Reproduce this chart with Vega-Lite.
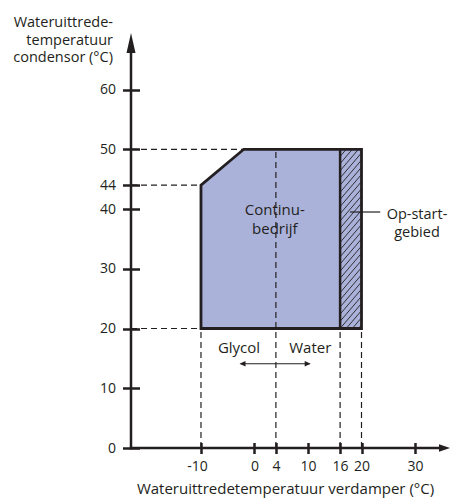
{
  "$schema": "https://vega.github.io/schema/vega-lite/v6.json",
  "width": 319,
  "height": 428,
  "autosize": {"type": "none"},
  "padding": {"left": 131, "top": 20, "right": 0, "bottom": 50},
  "background": "white",
  "config": {"view": {"stroke": null}, "font": "Open Sans"},
  "data": {"values": [{}]},
  "datasets": {
    "region": [
      {"x": -10, "y": 44},
      {"x": -2, "y": 50},
      {"x": 20, "y": 50}
    ],
    "outline": [
      {"o": 1, "x": -10, "y": 30},
      {"o": 2, "x": -10, "y": 44},
      {"o": 3, "x": -2, "y": 50},
      {"o": 4, "x": 20, "y": 50},
      {"o": 5, "x": 20, "y": 20},
      {"o": 6, "x": -10, "y": 20},
      {"o": 7, "x": -10, "y": 30}
    ],
    "dashes": [
      {"x": -23.08, "y": 50, "x2": -2, "y2": 50},
      {"x": -23.08, "y": 44, "x2": -10, "y2": 44},
      {"x": -23.08, "y": 20, "x2": -10, "y2": 20},
      {"x": -10, "y": 0, "x2": -10, "y2": 20},
      {"x": 4, "y": 0, "x2": 4, "y2": 50},
      {"x": 16, "y": 0, "x2": 16, "y2": 20},
      {"x": 20, "y": 0, "x2": 20, "y2": 20}
    ],
    "hatch": [
      {"hx": 19.429, "hy": 20, "hx2": 20, "hy2": 20.6},
      {"hx": 18.286, "hy": 20, "hx2": 20, "hy2": 21.8},
      {"hx": 17.143, "hy": 20, "hx2": 20, "hy2": 23.0},
      {"hx": 16, "hy": 20.0, "hx2": 20, "hy2": 24.2},
      {"hx": 16, "hy": 21.2, "hx2": 20, "hy2": 25.4},
      {"hx": 16, "hy": 22.4, "hx2": 20, "hy2": 26.6},
      {"hx": 16, "hy": 23.6, "hx2": 20, "hy2": 27.8},
      {"hx": 16, "hy": 24.8, "hx2": 20, "hy2": 29.0},
      {"hx": 16, "hy": 26.0, "hx2": 20, "hy2": 30.2},
      {"hx": 16, "hy": 27.2, "hx2": 20, "hy2": 31.4},
      {"hx": 16, "hy": 28.4, "hx2": 20, "hy2": 32.6},
      {"hx": 16, "hy": 29.6, "hx2": 20, "hy2": 33.8},
      {"hx": 16, "hy": 30.8, "hx2": 20, "hy2": 35.0},
      {"hx": 16, "hy": 32.0, "hx2": 20, "hy2": 36.2},
      {"hx": 16, "hy": 33.2, "hx2": 20, "hy2": 37.4},
      {"hx": 16, "hy": 34.4, "hx2": 20, "hy2": 38.6},
      {"hx": 16, "hy": 35.6, "hx2": 20, "hy2": 39.8},
      {"hx": 16, "hy": 36.8, "hx2": 20, "hy2": 41.0},
      {"hx": 16, "hy": 38.0, "hx2": 20, "hy2": 42.2},
      {"hx": 16, "hy": 39.2, "hx2": 20, "hy2": 43.4},
      {"hx": 16, "hy": 40.4, "hx2": 20, "hy2": 44.6},
      {"hx": 16, "hy": 41.6, "hx2": 20, "hy2": 45.8},
      {"hx": 16, "hy": 42.8, "hx2": 20, "hy2": 47.0},
      {"hx": 16, "hy": 44.0, "hx2": 20, "hy2": 48.2},
      {"hx": 16, "hy": 45.2, "hx2": 20, "hy2": 49.4},
      {"hx": 16, "hy": 46.4, "hx2": 19.429, "hy2": 50},
      {"hx": 16, "hy": 47.6, "hx2": 18.286, "hy2": 50},
      {"hx": 16, "hy": 48.8, "hx2": 17.143, "hy2": 50}
    ]
  },
  "layer": [
    {
      "data": {"name": "region"},
      "mark": {"type": "area", "color": "#abb2da", "opacity": 1},
      "encoding": {
        "x": {
          "field": "x", "type": "quantitative",
          "scale": {"domain": [-23.08, 36.54], "nice": false, "zero": false},
          "axis": {
            "values": [-10, 0, 4, 10, 16, 20, 30],
            "labelExpr": "'' + datum.value",
            "domain": false, "grid": false,
            "tickSize": 11, "tickWidth": 2.5, "tickColor": "#231f20",
            "offset": -5.5,
            "labelFont": "Open Sans", "labelFontSize": 14, "labelColor": "#231f20",
            "labelBaseline": "alphabetic",
            "labelOffset": {"condition": {"test": "datum.value < 0", "value": -4}, "value": 0},
            "labelPadding": 17, "labelOverlap": false, "labelFlush": false,
            "title": "Wateruittredetemperatuur verdamper (°C)",
            "titleFont": "Open Sans", "titleFontSize": 15, "titleFontWeight": "normal",
            "titleColor": "#231f20", "titleX": 154, "titleY": 50.8,
            "titleAlign": "center", "titleBaseline": "alphabetic"
          }
        },
        "y": {
          "field": "y", "type": "quantitative",
          "scale": {"domain": [0, 71.64], "nice": false, "zero": false},
          "axis": {
            "values": [0, 10, 20, 30, 40, 44, 50, 60],
            "domain": false, "grid": false,
            "tickSize": 17, "tickWidth": 2.5, "tickColor": "#231f20",
            "offset": -8.5,
            "labelFont": "Open Sans", "labelFontSize": 14, "labelColor": "#231f20",
            "labelPadding": 7, "labelOverlap": false, "labelFlush": false,
            "title": null
          }
        },
        "y2": {"datum": 20}
      }
    },
    {
      "data": {"name": "hatch"},
      "mark": {"type": "rule", "color": "#231f20", "strokeWidth": 0.9},
      "encoding": {
        "x": {"field": "hx", "type": "quantitative"},
        "y": {"field": "hy", "type": "quantitative"},
        "x2": {"field": "hx2"},
        "y2": {"field": "hy2"}
      }
    },
    {
      "data": {"name": "dashes"},
      "mark": {"type": "rule", "color": "#231f20", "strokeWidth": 1.2, "strokeDash": [6, 4]},
      "encoding": {
        "x": {"field": "x", "type": "quantitative"},
        "y": {"field": "y", "type": "quantitative"},
        "x2": {"field": "x2"},
        "y2": {"field": "y2"}
      }
    },
    {
      "data": {"name": "outline"},
      "mark": {"type": "line", "color": "#231f20", "strokeWidth": 2.8, "strokeJoin": "miter"},
      "encoding": {
        "x": {"field": "x", "type": "quantitative"},
        "y": {"field": "y", "type": "quantitative"},
        "order": {"field": "o"}
      }
    },
    {
      "mark": {"type": "rule", "color": "#231f20", "strokeWidth": 2.5},
      "encoding": {
        "x": {"datum": 16, "type": "quantitative"},
        "y": {"datum": 20, "type": "quantitative"},
        "y2": {"datum": 50}
      }
    },
    {
      "mark": {"type": "rule", "color": "#231f20", "strokeWidth": 2.5, "strokeCap": "square"},
      "encoding": {
        "x": {"datum": -23.08, "type": "quantitative"},
        "y": {"datum": 0, "type": "quantitative"},
        "y2": {"datum": 67}
      }
    },
    {
      "mark": {"type": "rule", "color": "#231f20", "strokeWidth": 2.5, "strokeCap": "square"},
      "encoding": {
        "x": {"datum": -23.08, "type": "quantitative"},
        "x2": {"datum": 34.8},
        "y": {"datum": 0, "type": "quantitative"}
      }
    },
    {
      "mark": {"type": "point", "shape": "M0,0L-0.225,1L0.225,1Z", "size": 1600, "filled": true, "color": "#231f20", "opacity": 1, "strokeWidth": 0},
      "encoding": {
        "x": {"datum": -23.08, "type": "quantitative"},
        "y": {"datum": 69.47, "type": "quantitative"}
      }
    },
    {
      "mark": {"type": "point", "shape": "M0,0L-1,-0.34L-1,0.34Z", "size": 484, "filled": true, "color": "#231f20", "opacity": 1, "strokeWidth": 0},
      "encoding": {
        "x": {"datum": 36.54, "type": "quantitative"},
        "y": {"datum": 0, "type": "quantitative"}
      }
    },
    {
      "mark": {"type": "rule", "color": "#231f20", "strokeWidth": 1},
      "encoding": {
        "x": {"datum": -2.6, "type": "quantitative"},
        "x2": {"datum": 10.3},
        "y": {"datum": 14.1, "type": "quantitative"}
      }
    },
    {
      "mark": {"type": "point", "shape": "M0,0L1,-0.45L1,0.45Z", "size": 144, "filled": true, "color": "#231f20", "opacity": 1, "strokeWidth": 0},
      "encoding": {
        "x": {"datum": -2.8, "type": "quantitative"},
        "y": {"datum": 14.1, "type": "quantitative"}
      }
    },
    {
      "mark": {"type": "point", "shape": "M0,0L-1,-0.45L-1,0.45Z", "size": 144, "filled": true, "color": "#231f20", "opacity": 1, "strokeWidth": 0},
      "encoding": {
        "x": {"datum": 10.5, "type": "quantitative"},
        "y": {"datum": 14.1, "type": "quantitative"}
      }
    },
    {
      "mark": {"type": "rule", "color": "#231f20", "strokeWidth": 1.2},
      "encoding": {
        "x": {"datum": 17.85, "type": "quantitative"},
        "x2": {"datum": 23.5},
        "y": {"datum": 39.5, "type": "quantitative"}
      }
    },
    {
      "mark": {"type": "text", "text": ["Wateruittrede-", "temperatuur", "condensor (°C)"], "align": "right", "baseline": "alphabetic", "lineHeight": 17.5, "font": "Open Sans", "fontSize": 14.5, "color": "#231f20"},
      "encoding": {
        "x": {"datum": -26.45, "type": "quantitative"},
        "y": {"datum": 70.39, "type": "quantitative"}
      }
    },
    {
      "mark": {"type": "text", "text": ["Continu-", "bedrijf"], "align": "center", "baseline": "alphabetic", "lineHeight": 19, "font": "Open Sans", "fontSize": 15, "color": "#231f20"},
      "encoding": {
        "x": {"datum": 3.8, "type": "quantitative"},
        "y": {"datum": 39.0, "type": "quantitative"}
      }
    },
    {
      "mark": {"type": "text", "text": ["Op-start-", "gebied"], "align": "center", "baseline": "alphabetic", "lineHeight": 17.5, "font": "Open Sans", "fontSize": 14.5, "color": "#231f20"},
      "encoding": {
        "x": {"datum": 30.37, "type": "quantitative"},
        "y": {"datum": 38.3, "type": "quantitative"}
      }
    },
    {
      "mark": {"type": "text", "text": "Glycol", "align": "center", "baseline": "alphabetic", "font": "Open Sans", "fontSize": 15, "color": "#231f20"},
      "encoding": {
        "x": {"datum": -2.9, "type": "quantitative"},
        "y": {"datum": 15.95, "type": "quantitative"}
      }
    },
    {
      "mark": {"type": "text", "text": "Water", "align": "center", "baseline": "alphabetic", "font": "Open Sans", "fontSize": 15, "color": "#231f20"},
      "encoding": {
        "x": {"datum": 10.43, "type": "quantitative"},
        "y": {"datum": 15.95, "type": "quantitative"}
      }
    }
  ]
}
